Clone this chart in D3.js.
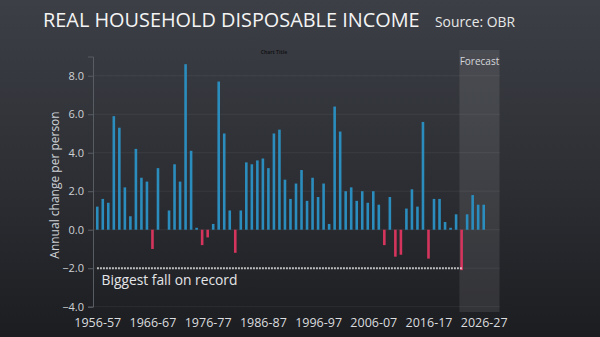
<!DOCTYPE html>
<html>
<head>
<meta charset="utf-8">
<script src="https://cdn.jsdelivr.net/npm/d3@7"></script>
<style>
  html, body { margin: 0; padding: 0; background: #2a2c31; }
  svg { display: block; }
  text { font-family: "Open Sans", "Noto Sans", sans-serif; }
</style>
</head>
<body>
<svg id="chart" width="600" height="337"></svg>
<script>
// Financial years on the category axis (last two are empty forecast slots)
const years = [
  "1956-57","1957-58","1958-59","1959-60","1960-61","1961-62","1962-63","1963-64","1964-65","1965-66",
  "1966-67","1967-68","1968-69","1969-70","1970-71","1971-72","1972-73","1973-74","1974-75","1975-76",
  "1976-77","1977-78","1978-79","1979-80","1980-81","1981-82","1982-83","1983-84","1984-85","1985-86",
  "1986-87","1987-88","1988-89","1989-90","1990-91","1991-92","1992-93","1993-94","1994-95","1995-96",
  "1996-97","1997-98","1998-99","1999-00","2000-01","2001-02","2002-03","2003-04","2004-05","2005-06",
  "2006-07","2007-08","2008-09","2009-10","2010-11","2011-12","2012-13","2013-14","2014-15","2015-16",
  "2016-17","2017-18","2018-19","2019-20","2020-21","2021-22","2022-23","2023-24","2024-25","2025-26",
  "2026-27","2027-28","2028-29"
];

// Annual change in real household disposable income per person (%)
const change = [
  1.2, 1.6, 1.4, 5.9, 5.3, 2.2, 0.7, 4.2, 2.7, 2.5,
  -1.0, 3.2, 0.0, 1.0, 3.4, 2.5, 8.6, 4.1, 0.1, -0.8,
  -0.4, 0.3, 7.7, 5.0, 1.0, -1.2, 1.0, 3.5, 3.4, 3.6,
  3.7, 3.2, 5.0, 5.2, 2.6, 1.6, 2.4, 3.1, 1.5, 2.7,
  1.7, 2.4, 0.3, 6.4, 5.1, 2.0, 2.2, 1.5, 2.0, 1.4,
  2.0, 1.3, -0.8, 1.7, -1.4, -1.3, 1.1, 2.1, 1.2, 5.6,
  -1.5, 1.6, 1.6, 0.4, 0.1, 0.8, -2.1, 0.8, 1.8, 1.3,
  1.3
];

const yTicks = [-4, -2, 0, 2, 4, 6, 8];
const xTickYears = ["1956-57","1966-67","1976-77","1986-87","1996-97","2006-07","2016-17","2026-27"];
const forecastStart = "2022-23";
const forecastEnd = "2028-29";
const recordFall = -2.0;

const svg = d3.select("#chart");
const W = 600, H = 337;

// shrink a text's font size until its natural width fits maxW
function fitWidth(sel, maxW) {
  const node = sel.node();
  let fs = parseFloat(sel.attr("font-size"));
  const w = node.getComputedTextLength();
  if (w > maxW) sel.attr("font-size", (fs * maxW / w).toFixed(2));
  return sel;
}

// background gradient
const defs = svg.append("defs");
const bg = defs.append("linearGradient").attr("id", "bg").attr("x1", 0).attr("y1", 0).attr("x2", 0).attr("y2", 1);
bg.append("stop").attr("offset", "0%").attr("stop-color", "#3c3f46");
bg.append("stop").attr("offset", "55%").attr("stop-color", "#2c2e33");
bg.append("stop").attr("offset", "100%").attr("stop-color", "#1c1d21");
svg.append("rect").attr("width", W).attr("height", H).attr("fill", "url(#bg)");

const x = d3.scalePoint().domain(years).range([94.5, 497.5]).padding(0.5);
const y = d3.scaleLinear().domain([-4, 9]).range([306.7, 56.5]);
const step = x.step();
const barW = step * 0.47;

// forecast shading
const fx0 = x(forecastStart) + step * 0.1 - step / 2;
const fx1 = x(forecastEnd) + step / 2 + 2;
svg.append("rect")
  .attr("x", fx0).attr("y", 50)
  .attr("width", fx1 - fx0).attr("height", 262)
  .attr("fill", "#ffffff").attr("fill-opacity", 0.09);
svg.append("text")
  .attr("x", (fx0 + fx1) / 2).attr("y", 65)
  .attr("text-anchor", "middle")
  .attr("font-size", 10).attr("fill", "#d4d6da")
  .text("Forecast");

// gridlines
svg.append("g").selectAll("line").data(yTicks).join("line")
  .attr("x1", 93).attr("x2", 500)
  .attr("y1", d => y(d)).attr("y2", d => y(d))
  .attr("stroke", "#ffffff").attr("stroke-opacity", 0.06);

// y axis
const yAxis = svg.append("g")
  .attr("transform", "translate(93,0)")
  .call(d3.axisLeft(y).tickValues(yTicks).tickFormat(d3.format(".1f")).tickSize(5).tickPadding(4));
yAxis.select(".domain").attr("stroke", "#585c63");
yAxis.selectAll(".tick line").attr("stroke", "#585c63");
yAxis.selectAll(".tick text")
  .attr("font-family", "'Open Sans', sans-serif")
  .attr("font-size", 11).attr("fill", "#cfd2d6");

svg.append("text")
  .attr("transform", "translate(59,185) rotate(-90)")
  .attr("text-anchor", "middle")
  .attr("font-size", 12).attr("fill", "#cfd2d6")
  .text("Annual change per person");

// x axis labels
const xAxis = svg.append("g")
  .attr("transform", "translate(0,306.7)")
  .call(d3.axisBottom(x).tickValues(xTickYears).tickSize(0).tickPadding(11));
xAxis.select(".domain").remove();
xAxis.selectAll(".tick text")
  .attr("font-family", "'Open Sans', sans-serif")
  .attr("font-size", 12.5).attr("fill", "#dadcdf");

// bars
svg.append("g").selectAll("rect").data(change).join("rect")
  .attr("x", (d, i) => x(years[i]) - barW / 2)
  .attr("width", barW)
  .attr("y", d => y(Math.max(0, d)))
  .attr("height", d => Math.abs(y(d) - y(0)))
  .attr("fill", d => d < 0 ? "#d5355d" : "#2b8dbd");

// record fall marker
svg.append("line")
  .attr("x1", x(years[0])).attr("x2", x(forecastStart) + 1)
  .attr("y1", y(recordFall)).attr("y2", y(recordFall))
  .attr("stroke", "#f2f2f2").attr("stroke-width", 2)
  .attr("stroke-dasharray", "1.4,1.6");
fitWidth(svg.append("text")
  .attr("x", 101.5).attr("y", 285)
  .attr("font-size", 14).attr("fill", "#e4e5e7")
  .text("Biggest fall on record"), 136);

// titles
fitWidth(svg.append("text")
  .attr("x", 43).attr("y", 27)
  .attr("font-size", 23).attr("fill", "#f4f4f4")
  .text("REAL HOUSEHOLD DISPOSABLE INCOME"), 377);
fitWidth(svg.append("text")
  .attr("x", 435).attr("y", 26.5)
  .attr("font-size", 14).attr("fill", "#e8e8e8")
  .text("Source: OBR"), 80);
svg.append("text")
  .attr("x", 274).attr("y", 54)
  .attr("text-anchor", "middle")
  .attr("font-size", 5).attr("font-weight", "bold").attr("fill", "#141518")
  .text("Chart Title");
</script>
</body>
</html>
